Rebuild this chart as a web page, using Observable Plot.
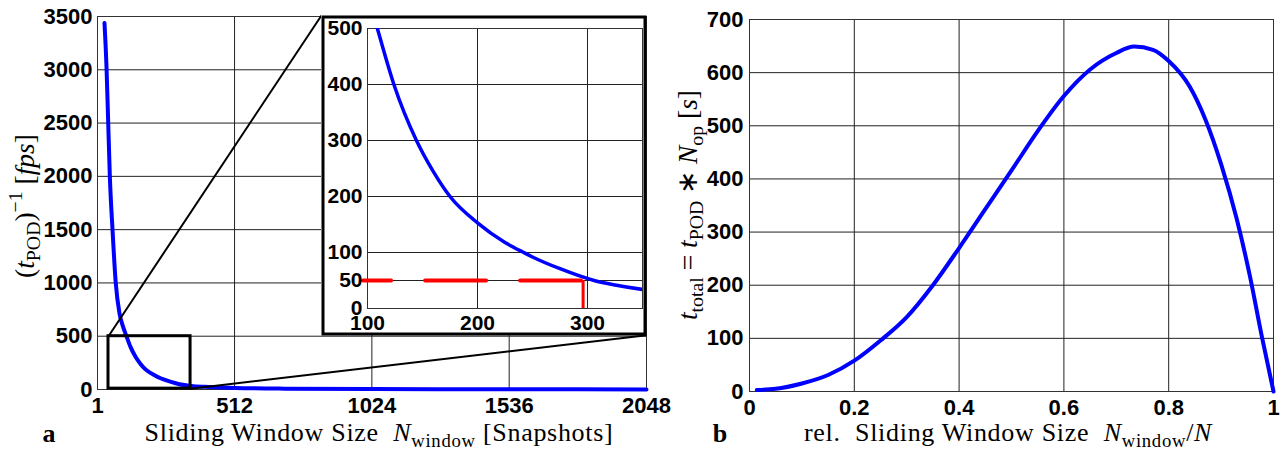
<!DOCTYPE html>
<html><head><meta charset="utf-8">
<script src="https://cdn.jsdelivr.net/npm/d3@7"></script>
<script src="https://cdn.jsdelivr.net/npm/@observablehq/plot@0.6"></script>
<style>
body{margin:0;background:#fff;}
#wrap{position:relative;width:1283px;height:452px;overflow:hidden;background:#fff;}
.pl{position:absolute;}
.lbl{position:absolute;font-family:"Liberation Serif",serif;font-size:26px;white-space:nowrap;color:#000;line-height:1;transform:translate(-50%,-50%);}
.lbl.rot{font-size:27.5px;transform:translate(-50%,-50%) rotate(-90deg);}
.lbl.wide{letter-spacing:0.7px;}
.lbl i{font-style:italic;}
.lbl sub{font-size:0.72em;vertical-align:-0.3em;line-height:0;}
.lbl sup{font-size:0.72em;vertical-align:0.6em;line-height:0;}
.tag{position:absolute;font-family:"Liberation Serif",serif;font-weight:bold;font-size:26px;line-height:1;transform:translate(-50%,-50%);}
</style></head><body><div id="wrap"></div>
<script>
// ---- data ----
const windowSize = [27, 34.5, 39.5, 47, 57, 69, 83, 95, 109, 124, 144.5, 160, 175, 200, 225, 242, 250, 275, 306, 325, 350, 400, 512, 700, 1024, 1536, 2048];
const fps        = [3440, 3030, 2625, 2000, 1500, 1000, 714, 600, 500, 400, 300, 244, 200, 153, 118, 100, 92, 71, 50, 42, 34, 25, 15, 8, 4, 2, 1];
const relSize    = [0.014, 0.05, 0.1, 0.15, 0.2, 0.25, 0.3, 0.35, 0.4, 0.45, 0.5, 0.55, 0.6, 0.65, 0.7, 0.734, 0.77, 0.8, 0.84, 0.87, 0.9, 0.93, 0.955, 0.977, 1.0];
const totalTime  = [3, 5, 15, 31, 58, 96, 140, 200, 270, 343, 416, 490, 556, 606, 637, 649, 643, 622, 574, 512, 428, 324, 217, 107, 0];

const leftXTicks = [1, 512, 1024, 1536, 2048];
const leftYTicks = [0, 500, 1000, 1500, 2000, 2500, 3000, 3500];
const insetXTicks = [100, 200, 300];
const insetYTicks = [0, 50, 100, 200, 300, 400, 500];
const rightXTicks = [0, 0.2, 0.4, 0.6, 0.8, 1];
const rightYTicks = [0, 100, 200, 300, 400, 500, 600, 700];

const insetXDomain = [100, 350];
const insetYDomain = [0, 500];
const zoomRect = {x1: 42, x2: 348, y1: 8, y2: 500};
const insetBox = {x1: 836, x2: 2048, y1: 508, y2: 3510};
const fpsThreshold = 50, windowAtThreshold = 296, thresholdStart = 96;

// ---- build ----
const wrap = document.getElementById("wrap");
const curve = windowSize.map((n, i) => ({n, f: fps[i]}));
const tcurve = relSize.map((r, i) => ({r, t: totalTime[i]}));
const BLUE = "#0000ff", GRID = "#222";
const baseStyle = {overflow: "visible", fontFamily: "'Liberation Sans', Arial, sans-serif", fontWeight: "bold", color: "#000", maxWidth: "none"};

function place(el, left, top) {
  const d = document.createElement("div");
  d.className = "pl"; d.style.left = left + "px"; d.style.top = top + "px";
  d.appendChild(el); wrap.appendChild(d); return d;
}

const links = [
  {x1: zoomRect.x1, y1: zoomRect.y2, x2: insetBox.x1, y2: insetBox.y2},
  {x1: zoomRect.x2, y1: zoomRect.y1, x2: insetBox.x2, y2: insetBox.y1}
];

const main = Plot.plot({
  width: 700, height: 430,
  marginLeft: 97, marginRight: 54, marginTop: 16, marginBottom: 41,
  x: {domain: [1, 2048]}, y: {domain: [0, 3500]},
  style: {...baseStyle, background: "transparent", fontSize: "22px"},
  marks: [
    Plot.gridX(leftXTicks, {stroke: GRID, strokeOpacity: 1}),
    Plot.gridY(leftYTicks, {stroke: GRID, strokeOpacity: 1}),
    Plot.frame({stroke: "#333"}),
    Plot.line(curve, {x: "n", y: "f", stroke: BLUE, strokeWidth: 4, curve: "monotone-x"}),
    Plot.rect([zoomRect], {x1: "x1", x2: "x2", y1: "y1", y2: "y2", fill: "none", stroke: "#000", strokeWidth: 3}),
    Plot.link(links, {x1: "x1", y1: "y1", x2: "x2", y2: "y2", stroke: "#000", strokeWidth: 2}),
    Plot.axisX(leftXTicks, {tickSize: 0, tickPadding: 8, tickFormat: d => String(d), label: null}),
    Plot.axisY(leftYTicks, {tickSize: 0, tickPadding: 5, tickFormat: d => String(d), label: null})
  ]
});
place(main, 0, 0);

const sx = main.scale("x"), sy = main.scale("y");
const ix1 = sx.apply(insetBox.x1), ix2 = sx.apply(insetBox.x2);
const iy1 = sy.apply(insetBox.y2), iy2 = sy.apply(insetBox.y1);
const iw = Math.round(ix2 - ix1), ih = Math.round(iy2 - iy1);
const mL = 46, mR = 4, mT = 13, mB = 27;

const inset = Plot.plot({
  width: iw, height: ih,
  marginLeft: mL, marginRight: mR, marginTop: mT, marginBottom: mB,
  x: {domain: insetXDomain}, y: {domain: insetYDomain},
  style: {...baseStyle, background: "#fff", fontSize: "21px"},
  marks: [
    Plot.gridX(insetXTicks, {stroke: GRID, strokeOpacity: 1}),
    Plot.gridY(insetYTicks, {stroke: GRID, strokeOpacity: 1}),
    Plot.frame({stroke: "#333"}),
    Plot.line(curve, {x: "n", y: "f", stroke: BLUE, strokeWidth: 3.5, curve: "monotone-x", clip: true}),
    Plot.line([{x: thresholdStart, y: fpsThreshold}, {x: windowAtThreshold, y: fpsThreshold}],
      {x: "x", y: "y", stroke: "#ff0000", strokeWidth: 4, strokeDasharray: "61,34", strokeDashoffset: 33}),
    Plot.ruleX([windowAtThreshold], {y1: 0, y2: fpsThreshold, stroke: "#ff0000", strokeWidth: 3}),
    Plot.frame({stroke: "#000", strokeWidth: 3, insetLeft: -(mL - 1.5), insetTop: -(mT - 1.5), insetRight: -(mR - 1.5), insetBottom: -(mB - 1.5)}),
    Plot.axisX(insetXTicks, {tickSize: 0, tickPadding: 7, tickFormat: d => String(d), label: null}),
    Plot.axisY(insetYTicks, {tickSize: 0, tickPadding: 5, tickFormat: d => String(d), label: null})
  ]
});
place(inset, ix1, iy1);

const right = Plot.plot({
  width: 593, height: 430,
  marginLeft: 59, marginRight: 10, marginTop: 19, marginBottom: 39,
  x: {domain: [0, 1]}, y: {domain: [0, 700]},
  style: {...baseStyle, background: "transparent", fontSize: "22px"},
  marks: [
    Plot.gridX(rightXTicks, {stroke: GRID, strokeOpacity: 1}),
    Plot.gridY(rightYTicks, {stroke: GRID, strokeOpacity: 1}),
    Plot.frame({stroke: "#333"}),
    Plot.line(tcurve, {x: "r", y: "t", stroke: BLUE, strokeWidth: 4, curve: "monotone-x"}),
    Plot.axisX(rightXTicks, {tickSize: 0, tickPadding: 8, tickFormat: d => String(d), label: null}),
    Plot.axisY(rightYTicks, {tickSize: 0, tickPadding: 6, tickFormat: d => String(d), label: null})
  ]
});
place(right, 690, 0);

function label(html, cx, cy, cls) {
  const d = document.createElement("div");
  d.className = cls;
  d.innerHTML = html; d.style.left = cx + "px"; d.style.top = cy + "px";
  wrap.appendChild(d);
}
label("Sliding Window Size&nbsp; <i>N</i><sub>window</sub> [Snapshots]", 379, 433, "lbl wide");
label("rel.&nbsp; Sliding Window Size&nbsp; <i>N</i><sub>window</sub>/<i>N</i>", 1008, 433, "lbl wide");
label("(<i>t</i><sub>POD</sub>)<sup>−1</sup> [<i>fps</i>]", 25, 206, "lbl rot");
label("<i>t</i><sub>total</sub> = <i>t</i><sub>POD</sub> ∗ <i>N</i><sub>op</sub> [<i>s</i>]", 688, 205, "lbl rot");
label("a", 49, 434, "tag");
label("b", 720, 434, "tag");
</script></body></html>
